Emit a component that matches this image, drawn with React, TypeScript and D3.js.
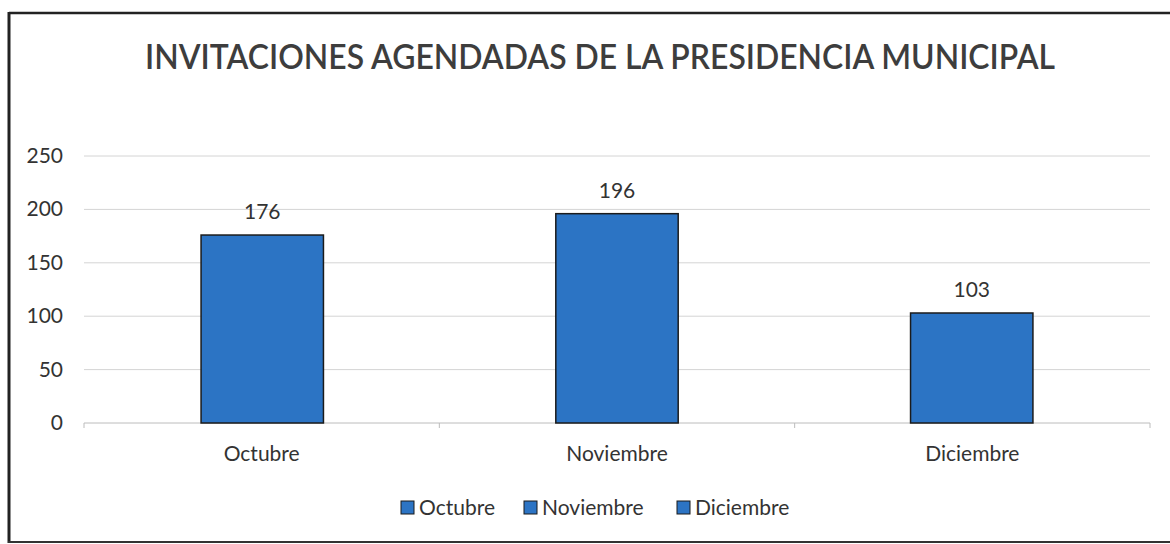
import React from "react";
import * as d3 from "d3";

const categories = ["Octubre", "Noviembre", "Diciembre"];
const values = [176, 196, 103];
const yTicks = [0, 50, 100, 150, 200, 250];
const title = "INVITACIONES AGENDADAS DE LA PRESIDENCIA MUNICIPAL";

const W = 1170;
const H = 544;
const FONT = "Lato, 'Open Sans', sans-serif";
const BAR = "#2C74C4";

export default function App() {
  const x = d3.scaleBand<string>().domain(categories).range([84, 1150]).paddingInner(0.655).paddingOuter(0.33);
  const band = d3.scaleBand<string>().domain(categories).range([84, 1150]);
  const y = d3.scaleLinear().domain([0, 250]).range([423, 156]);
  const legendX = [401, 524, 677];

  return (
    <svg width={W} height={H} style={{ position: "absolute", left: 0, top: 0, background: "#fff" }} fontFamily={FONT}>
      <rect x={0} y={0} width={W} height={H} fill="#fff" />
      {/* frame */}
      <line x1={9} y1={13} x2={W} y2={13} stroke="#222" strokeWidth={2.5} />
      <line x1={9} y1={12} x2={9} y2={543} stroke="#222" strokeWidth={3} />
      <line x1={8} y1={542} x2={W} y2={542} stroke="#333" strokeWidth={2} />

      <text x={600} y={69} textAnchor="middle" fontSize={34} fill="#3d3d3d" fontWeight={600} textLength={910} lengthAdjust="spacingAndGlyphs">
        {title}
      </text>

      {/* grid */}
      {yTicks.map((t) => (
        <g key={t}>
          <line x1={84} x2={1150} y1={y(t)} y2={y(t)} stroke={t === 0 ? "#bcbcbc" : "#d4d4d4"} strokeWidth={1} />
          <text x={63} y={y(t) + 7} textAnchor="end" fontSize={21} fill="#333">
            {t}
          </text>
        </g>
      ))}
      {/* category ticks */}
      {[...categories.map((c) => band(c) as number), 1150].map((px, i) => (
        <line key={i} x1={px} x2={px} y1={y(0)} y2={y(0) + 5} stroke="#bcbcbc" />
      ))}

      {/* bars */}
      {categories.map((c, i) => (
        <g key={c}>
          <rect
            x={x(c)}
            y={y(values[i])}
            width={x.bandwidth()}
            height={y(0) - y(values[i])}
            fill={BAR}
            stroke="#1b1b1b"
            strokeWidth={1.5}
          />
          <text x={(x(c) as number) + x.bandwidth() / 2} y={y(values[i]) - 16} textAnchor="middle" fontSize={21} fill="#333">
            {values[i]}
          </text>
          <text x={(band(c) as number) + band.bandwidth() / 2} y={461} textAnchor="middle" fontSize={21} fill="#333">
            {c}
          </text>
        </g>
      ))}

      {/* legend */}
      {categories.map((c, i) => (
        <g key={"lg" + c}>
          <rect x={legendX[i]} y={501} width={13} height={13} fill={BAR} stroke="#1b1b1b" strokeWidth={1} />
          <text x={legendX[i] + 18} y={515} fontSize={21} fill="#333">
            {c}
          </text>
        </g>
      ))}
    </svg>
  );
}
